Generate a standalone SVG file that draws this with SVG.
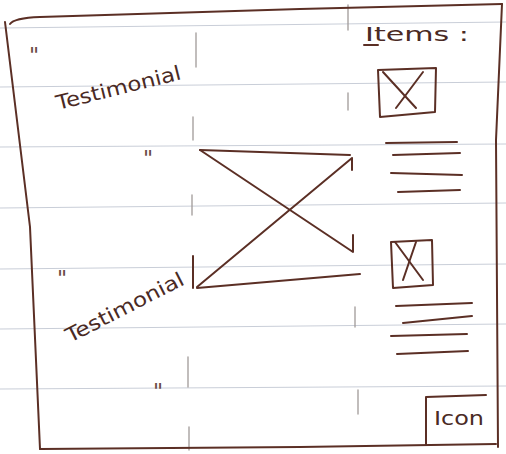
<svg xmlns="http://www.w3.org/2000/svg" width="506" height="454" viewBox="0 0 506 454">
<style>
.rule{stroke:#c9ced8;stroke-width:1.2;fill:none}
.pencil{stroke:#a09a98;stroke-width:1.3;fill:none;stroke-linecap:round}
.ink{stroke:#5b2f25;stroke-width:2;fill:none;stroke-linecap:round;stroke-linejoin:round}
.txt{font-family:"DejaVu Sans","Liberation Sans",sans-serif;fill:#4a2a24;font-weight:normal}
.q{font-family:"DejaVu Sans","Liberation Sans",sans-serif;fill:#6a4a44;font-size:22px}
</style>
<rect width="506" height="454" fill="#ffffff"/>
<g id="ruled-lines">
<path class="rule" d="M0,28 L506,22"/>
<path class="rule" d="M0,87 L506,82"/>
<path class="rule" d="M0,147 L506,144"/>
<path class="rule" d="M0,208 L506,203"/>
<path class="rule" d="M0,269 L506,264"/>
<path class="rule" d="M0,329 L506,324"/>
<path class="rule" d="M0,389 L506,386"/>
</g>
<g id="column-guides">
<path class="pencil" d="M196,33 L196,67"/>
<path class="pencil" d="M193,117 L193,140"/>
<path class="pencil" d="M192,195 L192,215"/>
<path class="pencil" d="M188,357 L188,387"/>
<path class="pencil" d="M189,427 L189,450"/>
<path class="pencil" d="M348,5 L348,30"/>
<path class="pencil" d="M348,93 L348,110"/>
<path class="pencil" d="M355,307 L355,327"/>
<path class="pencil" d="M358,390 L358,414"/>
</g>
<g id="frame">
<path class="ink" d="M10,24 Q14,18 40,17 L300,9 L502,4"/>
<path class="ink" d="M5,22 L30,227 L40,449"/>
<path class="ink" d="M40,449 L300,447 L496,444"/>
<path class="ink" d="M502,4 L496,140 L498,447"/>
</g>
<g id="main-image">
<path class="ink" d="M200,150 L350,155"/>
<path class="ink" d="M197,288 L360,274"/>
<path class="ink" d="M200,150 L353,252 L353,235"/>
<path class="ink" d="M197,287 L352,158 L352,170"/>
<path class="ink" d="M193,256 L193,288"/>
</g>
<g id="testimonial-1">
<text class="q" x="29" y="63">"</text>
<text class="txt" font-size="20" transform="translate(58,110) rotate(-14)" textLength="128" lengthAdjust="spacingAndGlyphs">Testimonial</text>
</g>
<g id="testimonial-2">
<text class="q" x="143" y="166">"</text>
<text class="q" x="57" y="286">"</text>
<text class="txt" font-size="20" transform="translate(70,343) rotate(-27)" textLength="130" lengthAdjust="spacingAndGlyphs">Testimonial</text>
<text class="q" x="153" y="399">"</text>
</g>
<g id="items-title">
<text class="txt" x="365" y="41" font-size="20" textLength="104" lengthAdjust="spacingAndGlyphs">Items :</text>
<path class="ink" d="M364,45 L378,45" stroke-width="1.5"/>
</g>
<g id="item-1">
<path class="ink" d="M378,70 L436,68 L435,112 L380,117 L378,70"/>
<path class="ink" d="M383,72 L416,108"/>
<path class="ink" d="M423,72 L396,108"/>
<path class="ink" d="M386,143 L457,142"/>
<path class="ink" d="M393,155 L460,153"/>
<path class="ink" d="M391,173 L462,175"/>
<path class="ink" d="M398,192 L460,190"/>
</g>
<g id="item-2">
<path class="ink" d="M391,242 L432,240 L433,285 L393,288 L391,242"/>
<path class="ink" d="M395,242 L423,280"/>
<path class="ink" d="M416,242 L403,280"/>
<path class="ink" d="M396,306 L472,303"/>
<path class="ink" d="M403,323 L472,316"/>
<path class="ink" d="M391,336 L467,334"/>
<path class="ink" d="M397,354 L468,351"/>
</g>
<g id="icon">
<path class="ink" d="M426,445 L426,397 L486,395"/>
<text class="txt" x="434" y="425" font-size="20" textLength="50" lengthAdjust="spacingAndGlyphs">Icon</text>
</g>
</svg>
